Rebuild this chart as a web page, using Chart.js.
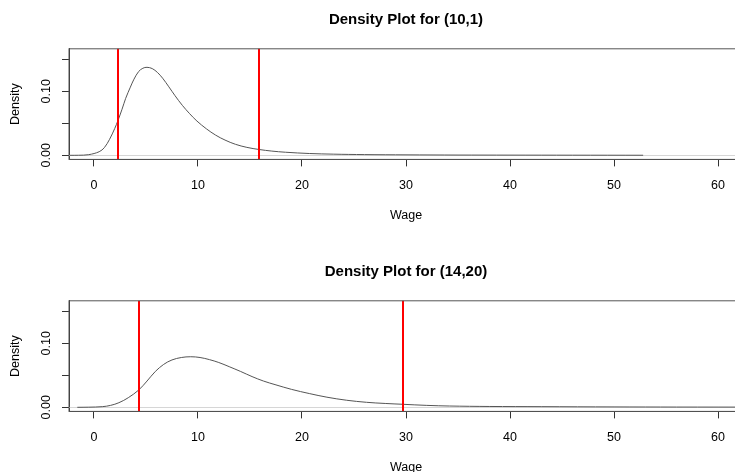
<!DOCTYPE html>
<html>
<head>
<meta charset="utf-8">
<script src="https://cdn.jsdelivr.net/npm/chart.js@4.4.1/dist/chart.umd.min.js"></script>
<style>
  html, body { margin: 0; padding: 0; background: #fff; width: 735px; height: 472px; overflow: hidden; }
  .panel { position: absolute; left: 0; width: 745px; height: 252px; }
</style>
</head>
<body>
<div class="panel" style="top:0"><canvas id="plotTop"></canvas></div>
<div class="panel" style="top:252px"><canvas id="plotBottom"></canvas></div>
<script>
// density for (10,1)
const wageTop = [-2.3, -1.5, -0.5, 0.5, 1.0, 1.5, 2.0, 2.3, 2.7, 3.05, 3.5, 3.85, 4.3, 4.7, 5.1, 5.6, 6.1, 6.6, 7.2, 7.8,
  8.5, 9.2, 9.9, 10.8, 11.7, 12.6, 13.6, 14.7, 15.9, 17.1, 18.4, 20.7, 23, 26, 30, 35, 40, 46, 52.8];
const densTop = [0, 0.0001, 0.001, 0.0056, 0.012, 0.025, 0.042, 0.054, 0.072, 0.089, 0.1065, 0.119, 0.131, 0.136, 0.1375, 0.1355, 0.1295, 0.1205, 0.107, 0.093,
  0.078, 0.065, 0.0535, 0.0415, 0.0315, 0.0238, 0.0172, 0.0124, 0.009, 0.0066, 0.0048, 0.0028, 0.0018, 0.0011, 0.0007, 0.0004, 0.0003, 0.0002, 0.0001];
const cutsTop = [2.3, 15.9];

// density for (14,20)
const wageBottom = [-1.6, -0.5, 0.8, 1.6, 2.4, 3.3, 4.3, 5.1, 5.9, 6.7, 7.5, 8.4, 9.3, 10.2, 11.1, 12.0, 13.0, 14.1, 15.2, 16.3,
  17.5, 19.0, 20.7, 22.4, 24.3, 26.2, 28, 29.7, 32, 34.2, 38, 43, 50, 56, 64];
const densBottom = [0, 0.0002, 0.001, 0.003, 0.0072, 0.015, 0.027, 0.041, 0.056, 0.067, 0.074, 0.0778, 0.079, 0.0778, 0.0745, 0.070, 0.0635, 0.056, 0.048, 0.041,
  0.035, 0.028, 0.0215, 0.0158, 0.011, 0.0078, 0.006, 0.0047, 0.003, 0.002, 0.0013, 0.001, 0.0006, 0.0004, 0.0003];
const cutsBottom = [4.3, 29.7];

const xTicks = [0, 10, 20, 30, 40, 50, 60];
const yTicks = [0, 0.05, 0.10, 0.15];
const yLabelTicks = [0, 0.10];

const FONT = '"Liberation Sans", Arial, Helvetica, sans-serif';
Chart.defaults.color = '#000';
Chart.defaults.font.family = FONT;

// R-style extras: zero line, red cut lines, box, rotated y labels
const rFrame = {
  id: 'rFrame',
  beforeDatasetsDraw(chart) {
    const { ctx, chartArea: a, scales: { y } } = chart;
    const y0 = Math.round(y.getPixelForValue(0)) + 0.5;
    ctx.save();
    ctx.strokeStyle = '#d6d6d6';
    ctx.lineWidth = 1;
    ctx.beginPath();
    ctx.moveTo(a.left, y0);
    ctx.lineTo(a.right, y0);
    ctx.stroke();
    ctx.restore();
  },
  afterDatasetsDraw(chart, args, opts) {
    const { ctx, chartArea: a, scales: { x } } = chart;
    ctx.save();
    ctx.strokeStyle = '#ff0000';
    ctx.lineWidth = 2;
    opts.lines.forEach(v => {
      const px = Math.round(x.getPixelForValue(v));
      ctx.beginPath();
      ctx.moveTo(px, a.top);
      ctx.lineTo(px, a.bottom);
      ctx.stroke();
    });
    ctx.restore();
  },
  afterDraw(chart) {
    const { ctx, chartArea: a, scales: { y } } = chart;
    ctx.save();
    ctx.strokeStyle = '#555';
    ctx.lineWidth = 1;
    ctx.strokeRect(a.left, a.top, a.right - a.left, a.bottom - a.top);
    ctx.fillStyle = '#000';
    ctx.font = '12.5px ' + FONT;
    ctx.textAlign = 'center';
    ctx.textBaseline = 'middle';
    yLabelTicks.forEach(v => {
      ctx.save();
      ctx.translate(47, y.getPixelForValue(v));
      ctx.rotate(-Math.PI / 2);
      ctx.fillText(v.toFixed(2), 0, 0);
      ctx.restore();
    });
    ctx.restore();
  }
};

function makePanel(id, wage, dens, cuts, titleText) {
  new Chart(document.getElementById(id), {
    type: 'line',
    data: {
      datasets: [{
        data: wage.map((w, i) => ({ x: w, y: dens[i] })),
        borderColor: '#555',
        borderWidth: 1,
        pointRadius: 0,
        tension: 0.35,
        fill: false
      }]
    },
    options: {
      responsive: true,
      maintainAspectRatio: false,
      animation: false,
      layout: { padding: { left: 0, right: 2, top: 0, bottom: 0 } },
      plugins: {
        legend: { display: false },
        tooltip: { enabled: false },
        title: {
          display: true,
          text: titleText,
          fullSize: false,
          color: '#000',
          font: { size: 15, weight: 'bold', family: FONT },
          padding: { top: 11, bottom: 19.8 }
        },
        rFrame: { lines: cuts }
      },
      scales: {
        x: {
          type: 'linear',
          min: -2.4,
          max: 62.4,
          afterBuildTicks: s => { s.ticks = xTicks.map(v => ({ value: v })); },
          afterFit: s => { s.height = 92.6; },
          grid: { drawOnChartArea: false, drawTicks: true, tickLength: 7, color: '#333' },
          border: { color: '#333' },
          ticks: { padding: 11.5, color: '#000', font: { size: 12.5 }, maxRotation: 0, callback: v => String(v) },
          title: { display: true, text: 'Wage', color: '#000', font: { size: 12.5 }, padding: { top: 0, bottom: 28.5 } }
        },
        y: {
          type: 'linear',
          min: -0.0064,
          max: 0.1664,
          afterBuildTicks: s => { s.ticks = yTicks.map(v => ({ value: v })); },
          afterFit: s => { s.width = 69; },
          grid: { drawOnChartArea: false, drawTicks: true, tickLength: 7, color: '#333' },
          border: { color: '#333' },
          ticks: { display: false },
          title: { display: true, text: 'Density', color: '#000', font: { size: 12.5 }, padding: { top: 8.5, bottom: 0 } }
        }
      }
    },
    plugins: [rFrame]
  });
}

makePanel('plotTop', wageTop, densTop, cutsTop, 'Density Plot for (10,1)');
makePanel('plotBottom', wageBottom, densBottom, cutsBottom, 'Density Plot for (14,20)');
</script>
</body>
</html>
